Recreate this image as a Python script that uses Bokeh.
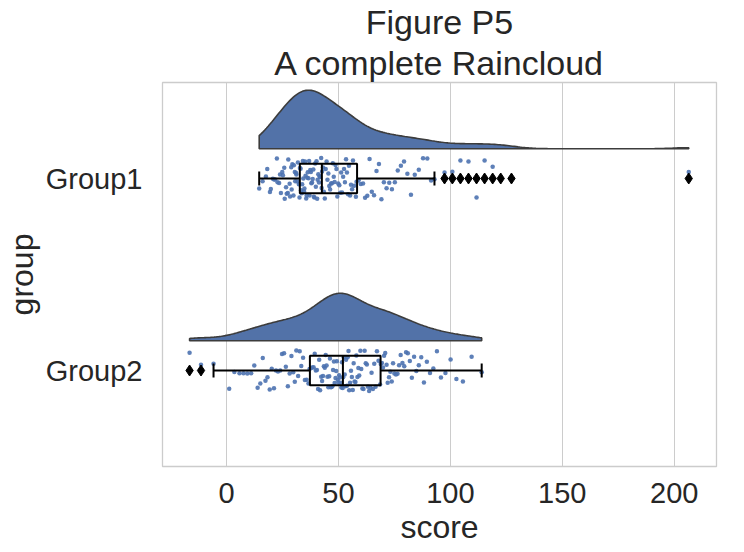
import numpy as np
from bokeh.plotting import figure
from bokeh.models import Range1d, FixedTicker, Title
from bokeh.embed import file_html
from bokeh.resources import INLINE

# ---------------- data ----------------
groups = ["Group1", "Group2"]

group1_scores = [
    14.6, 16.1, 17.6, 18.2, 19.4, 19.8, 20.7, 21.3, 21.7, 22.5,
    22.8, 23.5, 23.9, 24.3, 24.9, 25.2, 25.8, 26.0, 26.6, 26.9,
    27.4, 27.6, 28.2, 28.4, 28.9, 29.1, 29.4, 29.9, 30.1, 30.5,
    30.7, 31.1, 31.2, 31.7, 31.9, 32.3, 32.6,
    32.8, 33.1, 33.3, 33.6, 33.8, 34.1, 34.3, 34.6, 34.8, 35.1,
    35.3, 35.6, 35.8, 36.1, 36.3, 36.6, 36.9, 37.1, 37.4, 37.7,
    37.9, 38.2, 38.5, 38.8, 39.0, 39.3, 39.6, 39.9, 40.2, 40.5,
    40.7, 41.0, 41.3, 41.6, 41.8, 42.3, 42.5,
    42.7, 43.1, 43.5, 43.9, 44.3, 44.7, 45.1, 45.5, 45.9, 46.3,
    46.7, 47.1, 47.5, 47.9, 48.3, 48.7, 49.1, 49.5, 49.9, 50.4,
    50.8, 51.2, 51.6, 52.1, 52.5, 52.9, 53.4, 53.8, 54.3, 54.7,
    55.2, 55.6, 56.1, 56.5, 57.0, 57.8,
    58.1, 59.0, 60.0, 61.0, 61.9, 62.9, 63.9, 64.9, 65.9, 67.0,
    68.1, 69.2, 70.3, 71.5, 72.7, 73.9, 75.2, 76.5, 77.9, 79.3,
    80.8, 82.4, 84.1, 85.9, 87.8, 89.7, 91.4, 92.9,
    97.4, 100.9, 104.5, 108.1, 111.7, 115.3, 118.9, 122.5, 127.3, 206.5,
]

group2_scores = [
    -16.5, -11.4, -5.8, 1.2, 3.5, 5.8, 7.6, 9.3, 11.0, 12.4,
    13.9, 15.1, 16.2, 17.4, 18.3, 19.3, 20.2, 21.2, 22.1, 23.0,
    24.0, 24.8, 25.7, 26.5, 27.4, 28.2, 29.0, 29.8, 30.5, 31.2,
    32.0, 32.7, 33.4, 34.2, 35.0, 35.8, 36.6,
    37.1, 37.7, 38.3, 38.9, 39.4, 39.9, 40.4, 40.9, 41.4, 41.8,
    42.3, 42.7, 43.1, 43.5, 43.9, 44.3, 44.7, 45.1, 45.5, 45.9,
    46.2, 46.6, 46.9, 47.3, 47.6, 48.0, 48.3, 48.7, 49.0, 49.3,
    49.7, 50.0, 50.3, 50.6, 51.0, 51.3, 51.6, 51.9,
    52.1, 52.4, 52.8, 53.1, 53.4, 53.8, 54.1, 54.5, 54.8, 55.2,
    55.6, 56.0, 56.4, 56.8, 57.2, 57.6, 58.0, 58.5, 58.9, 59.3,
    59.8, 60.2, 60.7, 61.2, 61.7, 62.2, 62.7, 63.2, 63.7, 64.3,
    64.8, 65.4, 66.0, 66.6, 67.2, 67.9, 68.6,
    68.9, 69.4, 69.9, 70.4, 70.9, 71.5, 72.0, 72.6, 73.2, 73.8,
    74.4, 75.0, 75.7, 76.4, 77.1, 77.8, 78.6, 79.4, 80.2, 81.0,
    81.9, 82.8, 83.8, 84.8, 85.9, 87.0, 88.2, 89.5, 90.9, 92.4,
    94.0, 95.8, 97.8, 100.1, 102.7, 105.6, 109.5, 114.0,
]

x_ticks = [0, 50, 100, 150, 200]
title_lines = ["Figure P5", "A complete Raincloud"]
x_label = "score"
y_label = "group"

# ---------------- styling ----------------
FONT = "Liberation Sans"
TXT = "#262626"
CLOUD = "#5272a8"
CLOUD_EDGE = "#3c3c3c"
RAIN = "#4c72b0"
GRID = "#cccccc"

BOX_HALF = 0.077       # half box height (category units)
CAP_HALF = 0.036
CLOUD_OFFSET = 0.155   # cloud baseline distance above category centre
CLOUD_MAX = 0.305      # height of the tallest cloud
JITTER = 0.108
BW = 0.25              # kde bandwidth factor

data = [np.asarray(group1_scores, float), np.asarray(group2_scores, float)]

p = figure(
    frame_width=554, frame_height=384,
    x_range=Range1d(-28.6, 218.9), y_range=Range1d(1.5, -0.5),
    output_backend="svg", toolbar_location=None,
    min_border_left=155, min_border_right=19, min_border_top=10, min_border_bottom=10,
    background_fill_color="white", border_fill_color="white",
)

# ---- clouds (half violins, area-scaled kde cut at data range) ----
dens_list = []
grids = []
for d in data:
    g = np.linspace(d.min(), d.max(), 240)
    h = BW * d.std(ddof=1)
    k = np.exp(-0.5 * ((g[:, None] - d[None, :]) / h) ** 2).sum(axis=1)
    k /= (len(d) * h * np.sqrt(2 * np.pi))
    dens_list.append(k)
    grids.append(g)
dmax = max(k.max() for k in dens_list)

for i, (g, k) in enumerate(zip(grids, dens_list)):
    base = i - CLOUD_OFFSET
    ys = base - k / dmax * CLOUD_MAX
    xs = np.concatenate([g, g[::-1]])
    yy = np.concatenate([ys, np.full_like(g, base)])
    p.patch(xs, yy, fill_color=CLOUD, fill_alpha=1.0, line_color=CLOUD_EDGE, line_width=1.6)

# ---- rain (jittered points; deterministic hash jitter) ----
for i, d in enumerate(data):
    n = len(d)
    hsh = np.sin((np.arange(n) + 1) * 12.9898 + (i + 1) * 78.233) * 43758.5453
    u = hsh - np.floor(hsh)
    jit = (u - 0.5) * 2 * JITTER
    p.scatter(d, i + jit, size=4.5, fill_color=RAIN, line_color=None, fill_alpha=0.9)

# ---- boxes ----
for i, d in enumerate(data):
    q1, med, q3 = np.percentile(d, [25, 50, 75])
    iqr = q3 - q1
    lo_f, hi_f = q1 - 1.5 * iqr, q3 + 1.5 * iqr
    lw = d[d >= lo_f].min()
    uw = d[d <= hi_f].max()
    fl = d[(d < lo_f) | (d > hi_f)]
    p.quad(left=[q1], right=[q3], top=[i - BOX_HALF], bottom=[i + BOX_HALF],
           fill_color=None, line_color="black", line_width=2)
    p.segment(x0=[med], x1=[med], y0=[i - BOX_HALF], y1=[i + BOX_HALF], line_color="black", line_width=2)
    p.segment(x0=[lw, q3], x1=[q1, uw], y0=[i, i], y1=[i, i], line_color="black", line_width=2)
    p.segment(x0=[lw, uw], x1=[lw, uw], y0=[i - CAP_HALF] * 2, y1=[i + CAP_HALF] * 2,
              line_color="black", line_width=2)
    if len(fl):
        p.scatter(fl, np.full(len(fl), float(i)), marker="diamond", size=11,
                  fill_color="black", line_color="black")

# ---- axes / grid ----
p.xaxis.ticker = FixedTicker(ticks=x_ticks)
p.yaxis.ticker = FixedTicker(ticks=[0, 1])
p.yaxis.major_label_overrides = {0: groups[0], 1: groups[1]}
for ax in (p.xaxis[0], p.yaxis[0]):
    ax.axis_line_color = None
    ax.major_tick_line_color = None
    ax.minor_tick_line_color = None
    ax.major_label_text_font = FONT
    ax.major_label_text_font_size = "29px"
    ax.major_label_text_color = TXT
    ax.axis_label_text_font = FONT
    ax.axis_label_text_font_size = "32px"
    ax.axis_label_text_font_style = "normal"
    ax.axis_label_text_color = TXT
p.xaxis.axis_label = x_label
p.yaxis.axis_label = y_label
p.xaxis.major_label_standoff = 10
p.xaxis.axis_label_standoff = 3
p.yaxis.major_label_standoff = 14
p.yaxis.axis_label_standoff = 3

p.xgrid.grid_line_color = GRID
p.xgrid.grid_line_width = 1
p.ygrid.grid_line_color = None
p.outline_line_color = GRID
p.outline_line_width = 1.3

p.title.text = title_lines[0]
p.title.align = "center"
p.title.text_font = FONT
p.title.text_font_size = "34px"
p.title.text_font_style = "normal"
p.title.text_color = TXT
p.title.standoff = 0
p.add_layout(Title(text=title_lines[1], align="center", text_font=FONT, text_font_size="34px",
                   text_font_style="normal", text_color=TXT, standoff=2), "above")

open("out.html", "w").write(file_html(p, INLINE))
